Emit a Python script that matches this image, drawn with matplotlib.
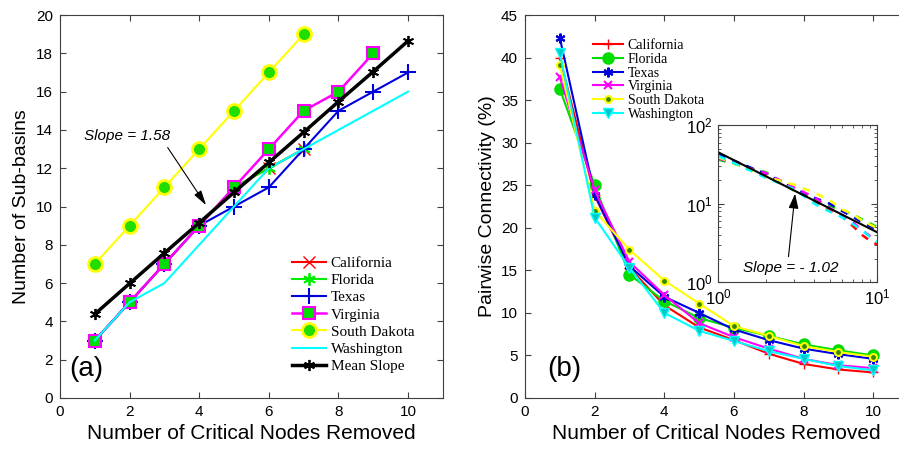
import matplotlib
matplotlib.use("Agg")
import matplotlib.pyplot as plt
from matplotlib.ticker import LogLocator, NullFormatter

plt.rcParams["font.family"] = "Liberation Sans"
plt.rcParams["mathtext.fontset"] = "custom"
plt.rcParams["mathtext.rm"] = "Liberation Sans"
plt.rcParams["mathtext.it"] = "Liberation Sans:italic"

# ---- panel (a): number of sub-basins ----
x_a = [1, 2, 3, 4, 5, 6, 7, 8, 9, 10]
ca_a = [3, 5, 7, 9, 11, 12, 13]
fl_a = [3, 5, 7, 9, 11, 12, 13]
tx_a = [3, 5, 7, 9, 10, 11, 13, 15, 16, 17]
va_a = [3, 5, 7, 9, 11, 13, 15, 16, 18]
sd_a = [7, 9, 11, 13, 15, 17, 19]
wa_a = [3, 5, 6, 8, 10, 12, 13, 14, 15, 16]
mean_a = [4.38, 5.98, 7.57, 9.15, 10.74, 12.3, 13.88, 15.48, 17.05, 18.65]

# ---- panel (b): pairwise connectivity (%) ----
x_b = [1, 2, 3, 4, 5, 6, 7, 8, 9, 10]
ca_b = [40.0, 23.8, 15.3, 10.9, 8.3, 6.8, 5.2, 4.0, 3.35, 3.0]
fl_b = [36.3, 25.0, 14.5, 11.4, 9.4, 8.25, 7.3, 6.3, 5.6, 5.0]
tx_b = [42.3, 23.9, 15.5, 11.9, 10.0, 8.05, 6.8, 5.8, 5.15, 4.6]
va_b = [37.7, 24.4, 16.0, 12.1, 8.8, 7.15, 5.8, 4.6, 3.85, 3.5]
sd_b = [39.1, 22.0, 17.4, 13.8, 11.1, 8.45, 7.3, 6.1, 5.4, 4.85]
wa_b = [40.5, 21.2, 15.3, 10.0, 7.9, 6.7, 5.5, 4.6, 3.75, 3.25]
fit_x = [1, 10]
fit_y = [45, 4.3]

spine_col = "#404040"


def style_axes(ax):
    for s in ax.spines.values():
        s.set_color(spine_col)
        s.set_linewidth(0.8)
    ax.tick_params(direction="in", top=True, right=True, labelsize=11,
                   color=spine_col, length=4, pad=5)


fig = plt.figure(figsize=(8.99, 4.5), dpi=100)

# (a)
ax1 = fig.add_axes([0.0667, 0.1156, 0.426, 0.851])
ax1.plot(x_a[:len(ca_a)], ca_a, color="red", marker="x", ms=8, lw=1.5, label="California")
ax1.plot(x_a[:len(fl_a)], fl_a, color="#00ee00", marker=(6, 2, 0), ms=9, mew=1.3, lw=1.5,
         label="Florida")
ax1.plot(x_a, tx_a, color="#0000dd", marker="+", ms=11, mew=1.5, lw=1.5, label="Texas")
ax1.plot(x_a[:len(va_a)], va_a, color="magenta", marker="s", ms=8, mfc="#00dd00",
         mec="magenta", mew=1.5, lw=1.8, label="Virginia")
ax1.plot(x_a[:len(sd_a)], sd_a, color="#ffff00", marker="o", ms=10, mfc="#22dd00",
         mec="#ffff00", mew=2, lw=1.5, label="South Dakota")
ax1.plot(x_a, wa_a, color="cyan", lw=1.5, label="Washington")
ax1.plot(x_a, mean_a, color="black", marker=(6, 2, 0), ms=8, mew=1.3, lw=2.5, label="Mean Slope")
ax1.set_xlim(0, 11)
ax1.set_ylim(0, 20)
ax1.set_xticks([0, 2, 4, 6, 8, 10])
ax1.set_yticks(range(0, 21, 2))
style_axes(ax1)
ax1.set_xlabel("Number of Critical Nodes Removed", fontsize=15)
ax1.set_ylabel("Number of Sub-basins", fontsize=14)
ax1.text(1.93, 13.7, "Slope = 1.58", style="italic", fontsize=11, ha="center", va="center")
ax1.annotate("", xy=(4.24, 9.95), xytext=(3.05, 13.2),
             arrowprops=dict(arrowstyle="-|>,head_length=0.9,head_width=0.25",
                             color="black", lw=0.8))
ax1.text(0.025, 0.075, "(a)", transform=ax1.transAxes, fontsize=20, va="center")
ax1.legend(loc="upper left", bbox_to_anchor=(0.587, 0.39), frameon=False,
           prop={"family": "Liberation Serif", "size": 11}, handlelength=2.2,
           handletextpad=0.3, labelspacing=0.23, borderpad=0)

# (b)
ax2 = fig.add_axes([0.584, 0.1156, 0.426, 0.851])
ax2.plot(x_b, ca_b, color="red", marker="+", ms=7, lw=1.5, label="California")
ax2.plot(x_b, fl_b, color="#00dd00", marker="o", ms=8, lw=1.5, label="Florida")
ax2.plot(x_b, tx_b, color="#0000dd", marker=(6, 2, 0), ms=7, mew=1.5, lw=1.5, label="Texas")
ax2.plot(x_b, va_b, color="magenta", marker="x", ms=6, mew=1.5, lw=1.5, label="Virginia")
ax2.plot(x_b, sd_b, color="#ffff00", marker="o", ms=5, mfc="#338800", mec="#ffff00",
         mew=1.5, lw=1.5, label="South Dakota")
ax2.plot(x_b, wa_b, color="cyan", marker="v", ms=7, mfc="#00c8c8", lw=1.5, label="Washington")
ax2.set_xlim(0, 11)
ax2.set_ylim(0, 45)
ax2.set_xticks([0, 2, 4, 6, 8, 10])
ax2.set_yticks(range(0, 46, 5))
style_axes(ax2)
ax2.set_xlabel("Number of Critical Nodes Removed", fontsize=15)
ax2.set_ylabel("Pairwise Connectivity (%)", fontsize=14)
ax2.text(0.057, 0.075, "(b)", transform=ax2.transAxes, fontsize=20, va="center")
ax2.legend(loc="upper left", bbox_to_anchor=(0.159, 0.955), frameon=False,
           prop={"family": "Liberation Serif", "size": 10}, handlelength=2.2,
           handletextpad=0.3, labelspacing=0.05, borderpad=0)

# inset (log-log)
axi = fig.add_axes([0.799, 0.373, 0.177, 0.349])
cols = ["red", "#00dd00", "#0000dd", "magenta", "#ffff00", "cyan"]
for ys, c in zip([ca_b, fl_b, tx_b, va_b, sd_b, wa_b], cols):
    axi.plot(x_b, ys, color=c, ls=(0, (3, 3)), lw=1.8)
axi.plot(fit_x, fit_y, color="black", lw=1.5)
axi.set_xscale("log")
axi.set_yscale("log")
axi.set_xlim(1, 10)
axi.set_ylim(1, 100)
axi.xaxis.set_minor_locator(LogLocator(subs=range(2, 10)))
axi.yaxis.set_minor_locator(LogLocator(subs=range(2, 10)))
axi.xaxis.set_minor_formatter(NullFormatter())
axi.yaxis.set_minor_formatter(NullFormatter())
for s in axi.spines.values():
    s.set_color(spine_col)
    s.set_linewidth(0.8)
axi.tick_params(which="both", direction="in", top=True, right=True, labelsize=12,
                color=spine_col, pad=4)
axi.tick_params(which="major", length=4)
axi.tick_params(which="minor", length=2)
axi.text(2.84, 1.5, "Slope = - 1.02", style="italic", fontsize=11, ha="center", va="center")
axi.annotate("", xy=(3.05, 14.5), xytext=(2.75, 1.95),
             arrowprops=dict(arrowstyle="-|>,head_length=0.9,head_width=0.3",
                             color="black", lw=0.8))

fig.savefig("out.png", dpi=100)
plt.close(fig)
